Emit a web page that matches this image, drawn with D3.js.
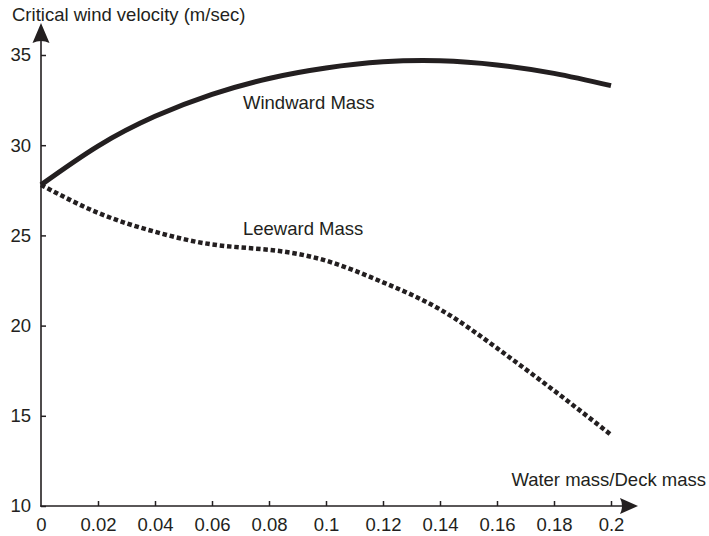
<!DOCTYPE html>
<html>
<head>
<meta charset="utf-8">
<script src="https://cdn.jsdelivr.net/npm/d3@7"></script>
<style>
  html, body { margin: 0; padding: 0; background: #fff; }
  svg { display: block; }
  text { font-family: "Liberation Sans", Arial, Helvetica, sans-serif; fill: #231f20; }
</style>
</head>
<body>
<svg id="chart" width="709" height="536"></svg>
<script>
// Mass ratio (water mass / deck mass) sample positions
const massRatio = [0, 0.02, 0.04, 0.06, 0.08, 0.1, 0.12, 0.14, 0.16, 0.18, 0.2];
// Critical wind velocity (m/sec) with the water mass on the windward side
const windward = [27.8, 29.95, 31.6, 32.82, 33.7, 34.28, 34.62, 34.68, 34.45, 33.98, 33.3];
// Critical wind velocity (m/sec) with the water mass on the leeward side
const leeward = [27.8, 26.25, 25.2, 24.5, 24.2, 23.6, 22.4, 20.9, 18.75, 16.4, 13.95];

const xTicks = [0, 0.02, 0.04, 0.06, 0.08, 0.1, 0.12, 0.14, 0.16, 0.18, 0.2];
const xTickLabels = ["0", "0.02", "0.04", "0.06", "0.08", "0.1", "0.12", "0.14", "0.16", "0.18", "0.2"];
const yTicks = [10, 15, 20, 25, 30, 35];
const yTickLabels = ["10", "15", "20", "25", "30", "35"];

const ink = "#231f20";
const fontSize = 18.5;
const svg = d3.select("#chart");

const x = d3.scaleLinear().domain([0, 0.2]).range([41, 611]);
const y = d3.scaleLinear().domain([10, 35]).range([506, 55]);

// Y axis: inward ticks, labels on the left
const yAxis = svg.append("g").attr("transform", `translate(${x(0)},0)`)
  .call(d3.axisRight(y).tickValues(yTicks).tickSize(5).tickSizeOuter(0)
    .tickFormat((d, i) => yTickLabels[i]));
yAxis.select(".domain").remove();
yAxis.selectAll(".tick line").attr("stroke", ink).attr("stroke-width", 1.5);
yAxis.selectAll(".tick text").attr("x", -10).attr("text-anchor", "end")
  .attr("font-size", fontSize).attr("font-family", null).attr("fill", ink);

// X axis: inward ticks, labels below
const xAxis = svg.append("g").attr("transform", `translate(0,${y(10)})`)
  .call(d3.axisTop(x).tickValues(xTicks).tickSize(5).tickSizeOuter(0)
    .tickFormat((d, i) => xTickLabels[i]));
xAxis.select(".domain").remove();
xAxis.selectAll(".tick line").attr("stroke", ink).attr("stroke-width", 1.5);
xAxis.selectAll(".tick text").attr("y", 25).attr("dy", null)
  .attr("font-size", fontSize).attr("font-family", null).attr("fill", ink);
xAxis.selectAll(".tick").filter(d => d === 0).select("line").remove();

// Axis lines with arrowheads
const ox = x(0), oy = y(10);
const yTip = 23, xTip = 638;
svg.append("line").attr("x1", ox).attr("y1", oy + 0.75).attr("x2", ox).attr("y2", yTip + 10)
  .attr("stroke", ink).attr("stroke-width", 1.6);
svg.append("line").attr("x1", ox - 0.75).attr("y1", oy).attr("x2", xTip - 10).attr("y2", oy)
  .attr("stroke", ink).attr("stroke-width", 1.6);
svg.append("path")
  .attr("d", `M${ox},${yTip} L${ox + 8.5},${yTip + 20} Q${ox},${yTip + 16} ${ox - 8.5},${yTip + 20} Z`)
  .attr("fill", ink);
svg.append("path")
  .attr("d", `M${xTip},${oy} L${xTip - 18},${oy - 8} Q${xTip - 14},${oy} ${xTip - 18},${oy + 8} Z`)
  .attr("fill", ink);

// Curves
const line = d3.line().curve(d3.curveNatural);
svg.append("path")
  .attr("d", line(massRatio.map((m, i) => [x(m), y(windward[i])])))
  .attr("fill", "none").attr("stroke", ink).attr("stroke-width", 5);
svg.append("path")
  .attr("d", line(massRatio.map((m, i) => [x(m), y(leeward[i])])))
  .attr("fill", "none").attr("stroke", ink).attr("stroke-width", 4.5)
  .attr("stroke-dasharray", "4.5,2.8");

// Labels
svg.append("text").attr("x", 12).attr("y", 21).attr("font-size", fontSize)
  .text("Critical wind velocity (m/sec)");
svg.append("text").attr("x", 706).attr("y", 486).attr("font-size", fontSize).attr("text-anchor", "end")
  .text("Water mass/Deck mass");
svg.append("text").attr("x", 243).attr("y", 109).attr("font-size", fontSize).text("Windward Mass");
svg.append("text").attr("x", 243).attr("y", 235).attr("font-size", fontSize).text("Leeward Mass");
</script>
</body>
</html>
